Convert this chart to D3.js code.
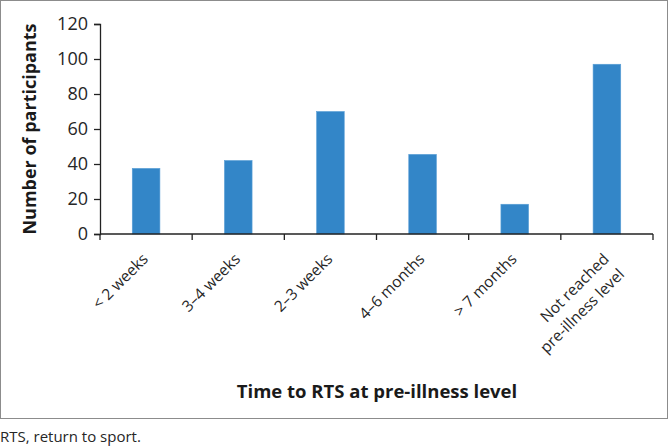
<!DOCTYPE html>
<html>
<head>
<meta charset="utf-8">
<script src="https://cdn.jsdelivr.net/npm/d3@7"></script>
<style>
  html, body { margin: 0; padding: 0; background: #fff; }
  svg { display: block; }
  text { font-family: "Open Sans", "Noto Sans", sans-serif; }
</style>
</head>
<body>
<svg id="chart" width="670" height="448"></svg>
<script>
const categories = [["< 2 weeks"], ["3–4 weeks"], ["2–3 weeks"], ["4–6 months"], ["> 7 months"], ["Not reached", "pre-illness level"]];
const values = [37.5, 42, 70, 45.5, 17, 97];
const yTicks = [0, 20, 40, 60, 80, 100, 120];
const yTitle = "Number of participants";
const xTitle = "Time to RTS at pre-illness level";
const caption = "RTS, return to sport.";

(function () {
const svg = d3.select("#chart");

// frame
svg.append("rect").attr("x", 0.5).attr("y", 0.5).attr("width", 667).attr("height", 418)
  .attr("fill", "none").attr("stroke", "#8c8c8c").attr("stroke-width", 1);

const mLeft = 100, mRight = 653, mTop = 24, mBottom = 234;
const keys = categories.map(c => c.join(" "));
const x = d3.scaleBand().domain(keys).range([mLeft, mRight]).paddingInner(0.7).paddingOuter(0.35);
const y = d3.scaleLinear().domain([0, 120]).range([mBottom, mTop]);

// bars
svg.append("g").selectAll("rect").data(values).join("rect")
  .attr("x", (d, i) => x(keys[i]))
  .attr("y", d => y(d))
  .attr("width", x.bandwidth())
  .attr("height", d => y(0) - y(d))
  .attr("fill", "#3386c8")
  .attr("stroke", "#5a9fd6").attr("stroke-width", 0.6);

// y axis
const yAxis = svg.append("g").attr("transform", `translate(${mLeft},0)`)
  .call(d3.axisLeft(y).tickValues(yTicks).tickSize(6).tickPadding(6).tickFormat(d3.format("d")));
yAxis.select(".domain").attr("stroke", "#222").attr("stroke-width", 1.3);
yAxis.selectAll(".tick line").attr("stroke", "#222").attr("stroke-width", 1.3);
yAxis.selectAll(".tick text").attr("fill", "#262626").style("font-size", "18px")
  .style("font-family", "'Open Sans', sans-serif");

// x axis: line + boundary ticks
const step = x.step();
const bounds = keys.map(k => x(k) - step * x.paddingInner() / 2).concat([mRight]);
const xg = svg.append("g");
xg.append("line").attr("x1", mLeft).attr("x2", mRight).attr("y1", y(0)).attr("y2", y(0))
  .attr("stroke", "#222").attr("stroke-width", 1.3);
xg.selectAll("line.tk").data(bounds).join("line").attr("class", "tk")
  .attr("x1", d => d).attr("x2", d => d).attr("y1", y(0)).attr("y2", y(0) + 6)
  .attr("stroke", "#222").attr("stroke-width", 1.3);

// category labels rotated -45
const lab = svg.append("g").selectAll("text").data(categories).join("text")
  .attr("transform", (d, i) => `translate(${x(keys[i]) + x.bandwidth() / 2 + 3},${y(0) + 26}) rotate(-45)`)
  .attr("text-anchor", "end")
  .attr("fill", "#262626")
  .style("font-size", "15.5px");
lab.each(function (d) {
  const t = d3.select(this);
  d.forEach((line, j) => {
    t.append("tspan").attr("x", 0).attr("dy", j === 0 ? 0 : "1.4em").text(line);
  });
});

// axis titles
svg.append("text").attr("transform", `translate(36,${(mTop + mBottom) / 2}) rotate(-90)`)
  .attr("text-anchor", "middle").attr("fill", "#1a1a1a")
  .style("font-size", "18px").style("font-weight", "bold").text(yTitle);

svg.append("text").attr("x", 377).attr("y", 398)
  .attr("text-anchor", "middle").attr("fill", "#1a1a1a")
  .style("font-size", "18.5px").style("font-weight", "bold").text(xTitle);

svg.append("text").attr("x", 0).attr("y", 442)
  .attr("fill", "#262626").style("font-size", "15px").text(caption);
})();
</script>
</body>
</html>
